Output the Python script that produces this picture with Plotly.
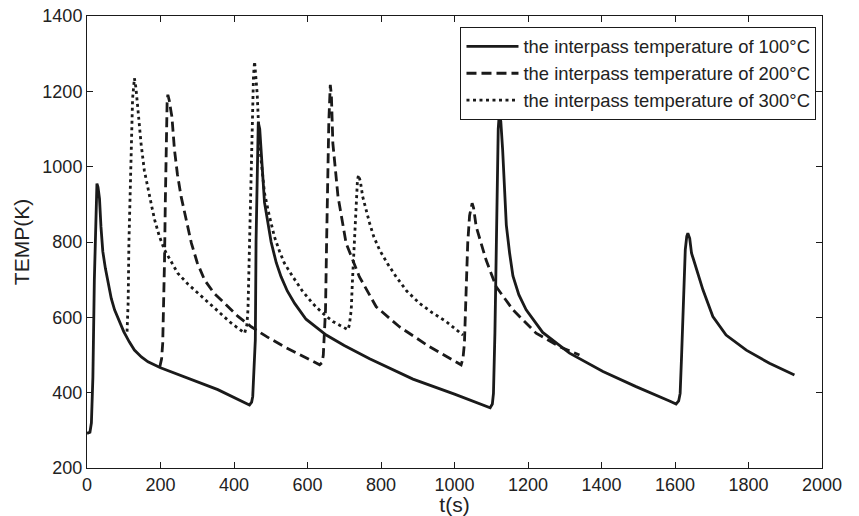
import plotly.graph_objects as go

# ---- data ----
t_100 = [0, 8, 12, 16, 20, 24, 27, 30, 34, 38, 43, 50, 57, 66, 75, 88, 100, 115, 129, 148,
         166, 200, 265, 356, 442, 448, 451, 455, 458, 460, 463, 466, 470, 474, 483, 501,
         515, 528, 545, 565, 596, 651, 700, 769, 887, 1000, 1068, 1097, 1103, 1106, 1110,
         1112, 1116, 1119, 1122, 1126, 1131, 1136, 1141, 1150, 1159, 1175, 1195, 1240,
         1313, 1404, 1494, 1585, 1603, 1610, 1614, 1618, 1621, 1625, 1628, 1632, 1635,
         1640, 1645, 1650, 1676, 1703, 1739, 1794, 1857, 1925]
T_100 = [292, 295, 320, 440, 700, 900, 955, 945, 915, 840, 775, 730, 690, 650, 620, 588,
         562, 535, 513, 495, 482, 466, 442, 408, 367, 375, 390, 460, 540, 800, 1000, 1118,
         1100, 1045, 905, 800, 745, 708, 670, 637, 595, 553, 525, 490, 436, 396, 372, 360,
         370, 398, 560, 710, 960, 1100, 1142, 1120, 1045, 930, 845, 770, 710, 660, 620,
         560, 505, 456, 416, 378, 370, 378, 398, 500, 602, 720, 780, 815, 823, 810, 770,
         755, 673, 602, 553, 513, 478, 447]

t_200 = [198, 203, 206, 209, 211, 213, 215, 218, 220, 224, 228, 231, 238, 246, 256, 270,
         284, 300, 320, 345, 374, 410, 447, 490, 537, 580, 633, 640, 643, 646, 649, 652,
         655, 658, 662, 665, 669, 676, 683, 705, 741, 787, 850, 932, 1018, 1023, 1027,
         1031, 1036, 1041, 1045, 1048, 1052, 1059, 1086, 1113, 1159, 1222, 1286, 1340]
T_200 = [468, 490, 531, 650, 752, 900, 1062, 1170, 1191, 1175, 1150, 1133, 1045, 980, 921,
         855, 797, 745, 699, 665, 637, 603, 575, 548, 522, 500, 474, 480, 500, 560, 620,
         800, 974, 1120, 1217, 1190, 1062, 980, 921, 797, 708, 628, 575, 522, 474, 490,
         531, 650, 797, 870, 895, 903, 890, 841, 752, 682, 620, 558, 522, 500]

t_300 = [109, 112, 114, 117, 120, 124, 129, 133, 137, 142, 147, 156, 166, 175, 184, 197,
         211, 228, 247, 275, 302, 330, 356, 392, 429, 435, 438, 441, 444, 447, 450, 453,
         456, 460, 463, 469, 476, 483, 496, 510, 524, 537, 560, 586, 614, 640, 669, 710,
         714, 719, 722, 725, 729, 733, 736, 739, 744, 750, 759, 769, 780, 796, 818, 841,
         870, 905, 940, 977, 1023]
T_300 = [562, 640, 797, 930, 1062, 1180, 1235, 1210, 1169, 1110, 1062, 990, 947, 900, 859,
         815, 779, 748, 717, 688, 664, 640, 615, 585, 558, 580, 620, 750, 885, 1020, 1151,
         1240, 1279, 1240, 1195, 1062, 990, 930, 870, 814, 775, 744, 708, 670, 637, 612,
         589, 567, 580, 620, 690, 752, 850, 930, 965, 978, 960, 921, 885, 850, 815, 779,
         742, 708, 670, 637, 612, 589, 553]

names = ["the interpass temperature of 100°C",
         "the interpass temperature of 200°C",
         "the interpass temperature of 300°C"]

x_ticks = list(range(0, 2001, 200))
y_ticks = list(range(200, 1401, 200))

INK = "#1a1a1a"
FONT = "Liberation Sans, Arial, Helvetica, sans-serif"

fig = go.Figure()
fig.add_trace(go.Scatter(x=t_100, y=T_100, mode="lines", name=names[0],
                         line=dict(color=INK, width=2.8)))
fig.add_trace(go.Scatter(x=t_200, y=T_200, mode="lines", name=names[1],
                         line=dict(color=INK, width=2.8, dash="10px,5px")))
fig.add_trace(go.Scatter(x=t_300, y=T_300, mode="lines", name=names[2],
                         line=dict(color=INK, width=2.8, dash="3px,3.5px")))

axis_common = dict(showline=True, linecolor=INK, linewidth=1, mirror="ticks",
                   ticks="inside", ticklen=6, tickcolor=INK, tickwidth=1,
                   showgrid=False, zeroline=False, automargin=False,
                   tickfont=dict(family=FONT, size=18, color="#222"))

fig.update_xaxes(range=[0, 2000], tickvals=x_ticks, ticktext=[str(v) for v in x_ticks],
                 title=dict(text="t(s)", font=dict(family=FONT, size=21, color="#222"),
                            standoff=6),
                 **axis_common)
fig.update_yaxes(range=[200, 1400], tickvals=y_ticks, ticktext=[str(v) for v in y_ticks],
                 title=dict(text="TEMP(K)", font=dict(family=FONT, size=21, color="#222"),
                            standoff=7),
                 **axis_common)

fig.update_layout(
    width=859, height=516,
    margin=dict(l=87, r=37, t=16, b=48),
    paper_bgcolor="white", plot_bgcolor="white",
    font=dict(family=FONT, color="#222"),
    showlegend=True,
    legend=dict(x=0.9925, y=0.976, xanchor="right", yanchor="top",
                bgcolor="white", bordercolor=INK, borderwidth=1,
                font=dict(family=FONT, size=18.4, color="#222"),
                tracegroupgap=0, itemwidth=52),
)

fig.write_html("out.html")
